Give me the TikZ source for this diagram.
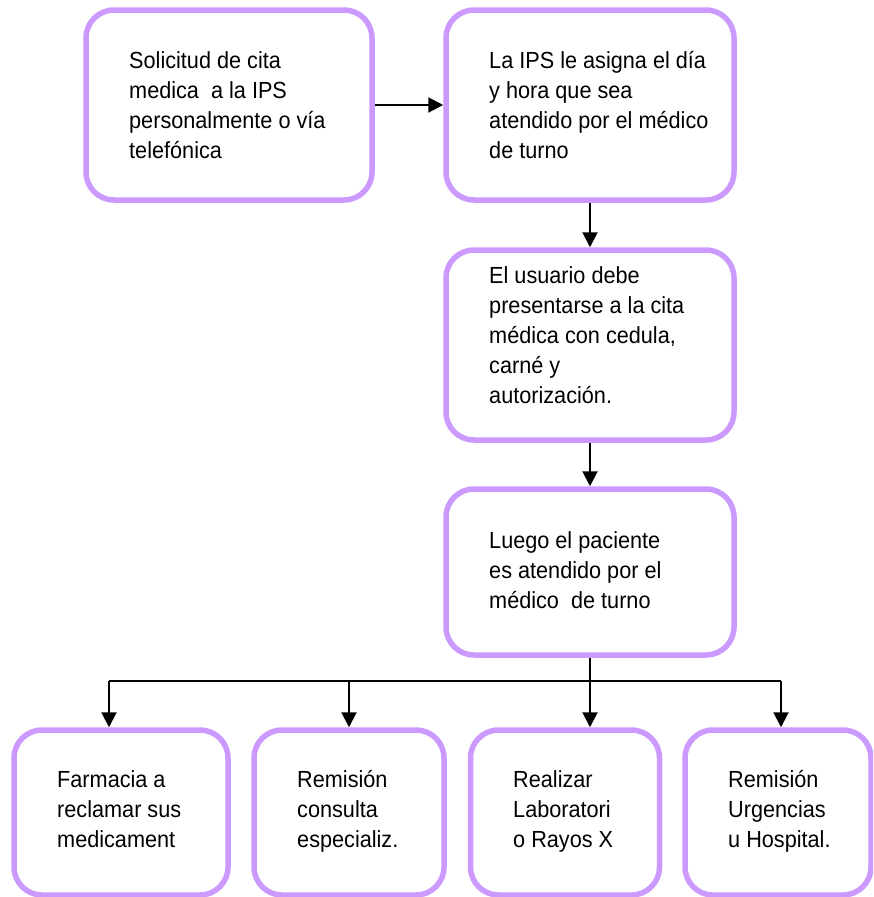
\documentclass[tikz,border=0pt]{standalone}
\usepackage{fontspec}
\setmainfont{Liberation Sans}[FakeStretch=0.93]
\usetikzlibrary{arrows.meta}
\definecolor{lila}{HTML}{CC99FF}
\newcommand{\boxfont}{\fontsize{23.3pt}{30pt}\selectfont}
\newcommand{\boxtext}[1]{\parbox[t]{300pt}{\raggedright\setlength{\baselineskip}{30pt}#1}}
\tikzset{
  stepbox/.style={draw=lila, line width=5.5pt, rounded corners=28pt, fill=white,
    rectangle, inner sep=0pt},
  label text/.style={anchor=base west, inner sep=0pt, font=\boxfont, text=black},
  arr/.style={draw=black, line width=2pt, -{Triangle[length=15pt,width=15pt]}},
  bus/.style={draw=black, line width=2pt}
}
\begin{document}
\begin{tikzpicture}[x=1pt, y=-1pt]
\useasboundingbox (0,0) rectangle (873,897);
\clip (0,0) rectangle (873,897);
\fill[white] (0,0) rectangle (873,897);

% process boxes
\node[stepbox, minimum width=286pt, minimum height=190pt] (b1) at (229,105) {};
\node[stepbox, minimum width=288pt, minimum height=190pt] (b2) at (590,105) {};
\node[stepbox, minimum width=288pt, minimum height=190pt] (b3) at (590,345) {};
\node[stepbox, minimum width=288pt, minimum height=166pt] (b4) at (590,572) {};
\node[stepbox, minimum width=214pt, minimum height=165pt] (b5) at (121,812.5) {};
\node[stepbox, minimum width=190pt, minimum height=165pt] (b6) at (349,812.5) {};
\node[stepbox, minimum width=189pt, minimum height=165pt] (b7) at (565,812.5) {};
\node[stepbox, minimum width=186pt, minimum height=165pt] (b8) at (778,812.5) {};

% box texts
\node[label text] (t1) at (129,68) {\boxtext{Solicitud de cita\\medica\ \ a la IPS\\personalmente o vía\\telefónica}};
\node[label text] (t2) at (489,68) {\boxtext{La IPS le asigna el día\\y hora que sea\\atendido por el médico\\de turno}};
\node[label text] (t3) at (489,283) {\boxtext{El usuario debe\\presentarse a la cita\\médica con cedula,\\carné y\\autorización.}};
\node[label text] (t4) at (489,548) {\boxtext{Luego el paciente\\es atendido por el\\médico\ \ de turno}};
\node[label text] (t5) at (57,787) {\boxtext{Farmacia a\\reclamar sus\\medicament}};
\node[label text] (t6) at (297,787) {\boxtext{Remisión\\consulta\\especializ.}};
\node[label text] (t7) at (513,787) {\boxtext{Realizar\\Laboratori\\o Rayos X}};
\node[label text] (t8) at (728,787) {\boxtext{Remisión\\Urgencias\\u Hospital.}};

% connectors
\draw[arr] (b1.east) -- (b2.west);
\draw[arr] (b2.south) -- (b3.north);
\draw[arr] (b3.south) -- (b4.north);

\coordinate (j1) at (109,681);
\coordinate (j2) at (349,681);
\coordinate (j4) at (781,681);
\draw[bus] (j1) -- (j4);
\draw[arr] (b4.south) -- (b4.south |- b7.north);
\draw[arr] (j1) -- (j1 |- b5.north);
\draw[arr] (j2) -- (j2 |- b6.north);
\draw[arr] (j4) -- (j4 |- b8.north);
\end{tikzpicture}
\end{document}
